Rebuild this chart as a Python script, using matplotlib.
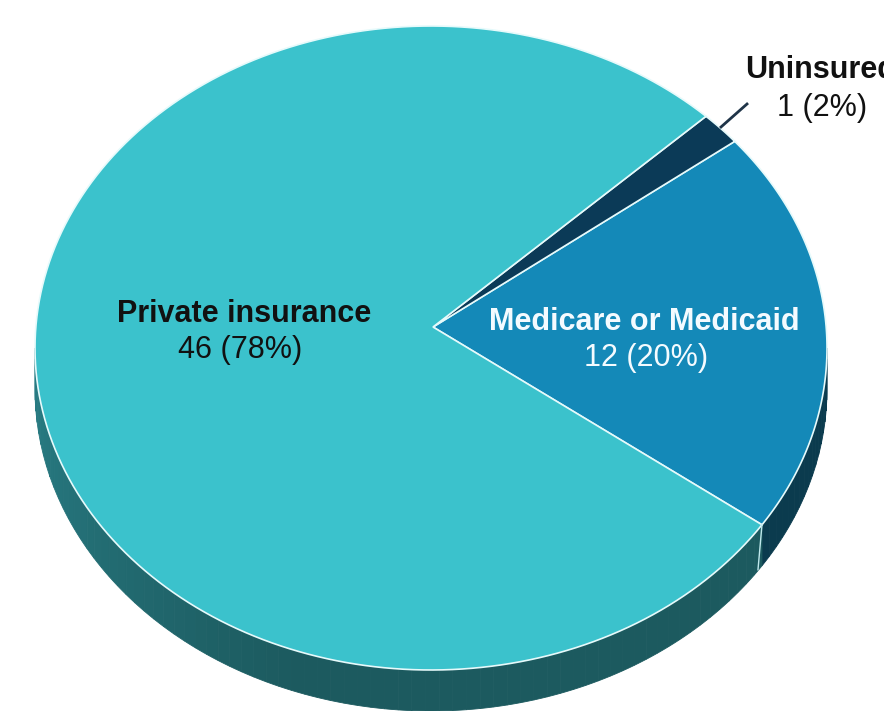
import numpy as np
import matplotlib.pyplot as plt
from matplotlib.patches import Polygon

plt.rcParams['font.family'] = ['Liberation Sans', 'DejaVu Sans']

# data (counterclockwise order, starting at the lower edge of the Medicare slice)
labels = ["Medicare or Medicaid", "Uninsured", "Private insurance"]
counts = [12, 1, 46]

top_colors = ["#1489b8", "#0b3a57", "#3bc2cc"]
side_colors = ["#0b3b4e", "#0b3b4e", "#1c5a5f"]

# geometry of the tilted pie, in pixel units
cx, cy = 431, 348          # centre of the top ellipse
rx, ry = 396, 322          # radii of the top ellipse
apex = (433, 327)          # where the slices meet (perspective)
depth = 41                 # thickness of the side
start = -33.3              # angle of the first slice edge

total = sum(counts)
angles = np.cumsum([0] + [c / total * 360 for c in counts]) + start


def rim(a0, a1, dy=0, n=200):
    t = np.radians(np.linspace(a0, a1, n))
    return np.column_stack([cx + rx * np.cos(t), cy - ry * np.sin(t) + dy])


fig = plt.figure(figsize=(8.84, 7.11), dpi=100)
ax = fig.add_axes([0, 0, 1, 1])
ax.set_xlim(0, 884)
ax.set_ylim(711, 0)
ax.axis('off')


def side_shade(a, base):
    # a little lighter towards the left of the front band
    rgb = np.array(plt.matplotlib.colors.to_rgb(base))
    k = np.clip((250 - a) / 70, 0, 1)
    return np.clip(rgb + k * np.array([0.05, 0.14, 0.15]), 0, 1)


# side band (only the front half is visible)
for i in range(len(counts)):
    a0, a1 = angles[i], angles[i + 1]
    for lo, hi in [(a0, a1), (a0 + 360, a1 + 360), (a0 - 360, a1 - 360)]:
        s0, s1 = max(lo, 180), min(hi, 360)
        if s1 <= s0:
            continue
        steps = np.linspace(s0, s1, int((s1 - s0) / 2) + 2)
        for b0, b1 in zip(steps[:-1], steps[1:]):
            col = side_shade((b0 + b1) / 2 % 360, side_colors[i])
            pts = np.vstack([rim(b0, b1, 0, 6), rim(b1, b0, depth, 6)])
            ax.add_patch(Polygon(pts, closed=True, fc=col, ec=col, lw=0.6))

# edge of the side between Private and Medicare
edge_a = np.radians(angles[0])
ex, ey = cx + rx * np.cos(edge_a), cy - ry * np.sin(edge_a)
ax.plot([ex, ex - 4], [ey, ey + depth + 4], color="#bfe8ec", lw=1)

# top face
for i in range(len(counts)):
    pts = np.vstack([[apex], rim(angles[i], angles[i + 1])])
    ax.add_patch(Polygon(pts, closed=True, fc=top_colors[i], ec="#e6fafb", lw=1.2))

# labels
pct = [round(c / total * 100) for c in counts]
ax.text(644, 330, labels[0], ha='center', va='baseline', fontsize=22,
        fontweight='bold', color='#f4fbff')
ax.text(646, 366, "{} ({}%)".format(counts[0], pct[0]), ha='center', va='baseline',
        fontsize=22, color='#f4fbff')

ax.text(244, 322, labels[2], ha='center', va='baseline', fontsize=22,
        fontweight='bold', color='#111111')
ax.text(240, 358, "{} ({}%)".format(counts[2], pct[2]), ha='center', va='baseline',
        fontsize=22, color='#111111')

ax.text(821, 78, labels[1], ha='center', va='baseline', fontsize=22,
        fontweight='bold', color='#111111')
ax.text(822, 116, "{} ({}%)".format(counts[1], pct[1]), ha='center', va='baseline',
        fontsize=22, color='#111111')
ax.plot([721, 747], [127, 104], color='#1f3448', lw=2)

fig.savefig("out.png", dpi=100)
